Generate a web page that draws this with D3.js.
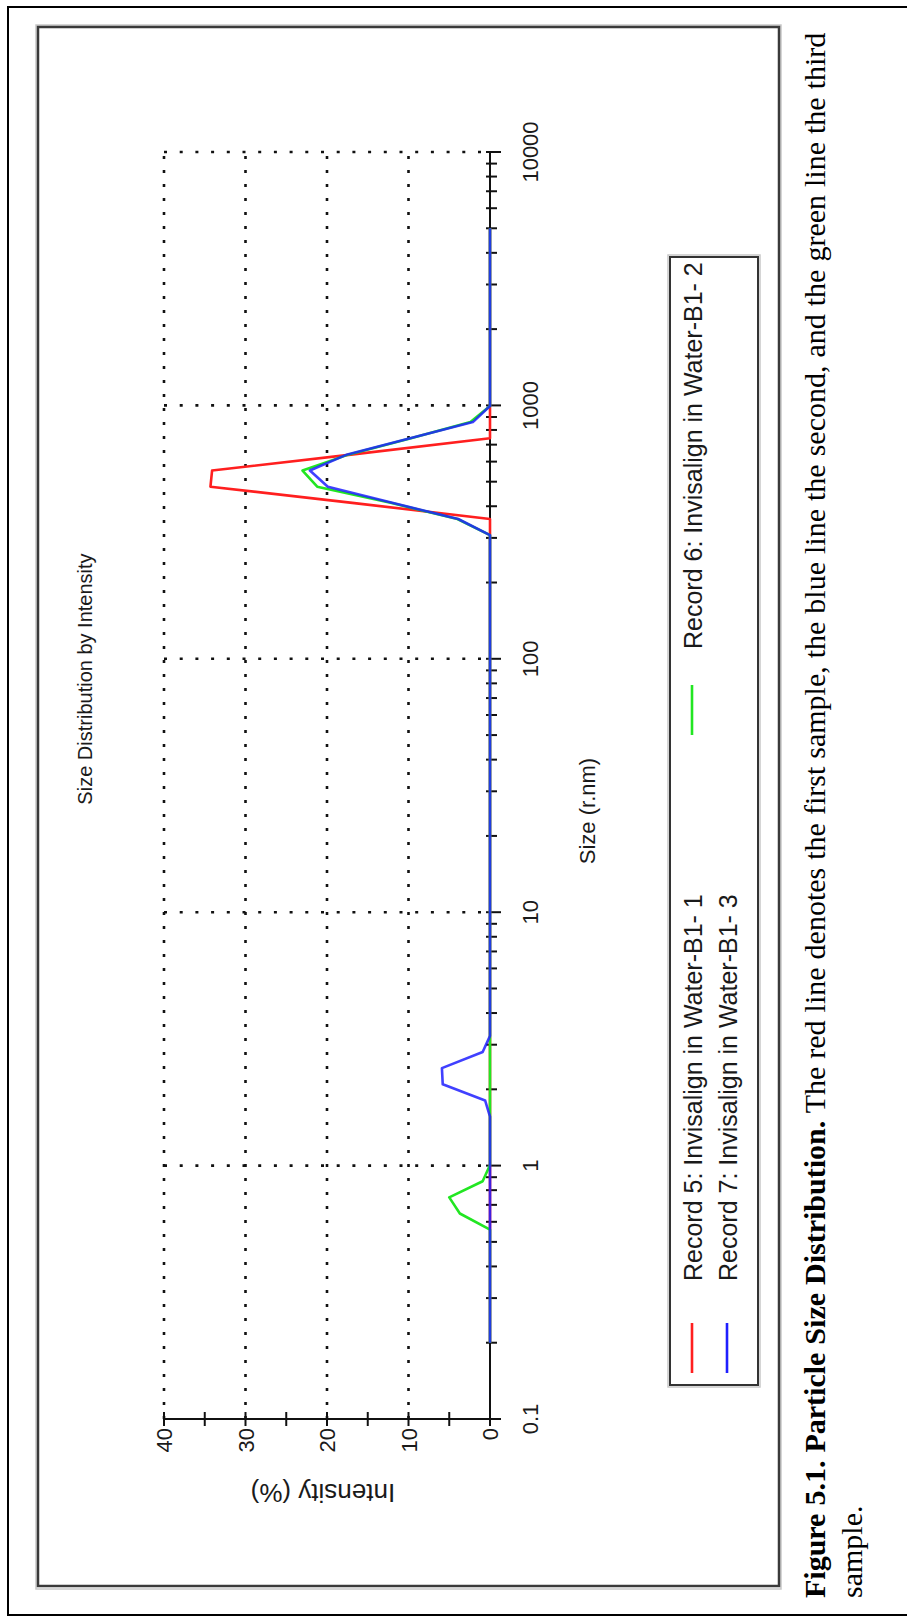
<!DOCTYPE html>
<html>
<head>
<meta charset="utf-8">
<script src="https://cdn.jsdelivr.net/npm/d3@7"></script>
<style>
  body { margin: 0; background: #fff; }
  svg { display: block; }
</style>
</head>
<body>
<svg id="fig" width="907" height="1623"></svg>
<script>
// Size bins of the instrument (radius, nm)
const sizes = [
  0.2, 0.2316, 0.2682, 0.3106, 0.3597, 0.4166, 0.4824, 0.5586, 0.6470, 0.7493,
  0.8677, 1.005, 1.164, 1.348, 1.561, 1.808, 2.093, 2.424, 2.807, 3.251,
  3.765, 4.360, 5.050, 5.848, 6.772, 7.843, 9.083, 10.52, 12.18, 14.11,
  16.34, 18.92, 21.91, 25.38, 29.39, 34.03, 39.41, 45.64, 52.86, 61.22,
  70.89, 82.10, 95.08, 110.1, 127.5, 147.7, 171.0, 198.0, 229.4, 265.6,
  307.6, 356.2, 412.5, 477.7, 553.2, 640.7, 742.0, 859.3, 995.1, 1152,
  1334, 1545, 1790, 2073, 2400, 2780, 3219, 3728, 4317, 5000
];

// Intensity (%) per bin
const record5 = [
  0, 0, 0, 0, 0, 0, 0, 0, 0, 0,
  0, 0, 0, 0, 0, 0, 0, 0, 0, 0,
  0, 0, 0, 0, 0, 0, 0, 0, 0, 0,
  0, 0, 0, 0, 0, 0, 0, 0, 0, 0,
  0, 0, 0, 0, 0, 0, 0, 0, 0, 0,
  0, 0, 16.9, 34.3, 34.1, 16.8, 0, 0, 0, 0,
  0, 0, 0, 0, 0, 0, 0, 0, 0, 0
];
const record6 = [
  0, 0, 0, 0, 0, 0, 0, 0, 3.7, 5.0,
  0.9, 0, 0, 0, 0, 0, 0, 0, 0, 0,
  0, 0, 0, 0, 0, 0, 0, 0, 0, 0,
  0, 0, 0, 0, 0, 0, 0, 0, 0, 0,
  0, 0, 0, 0, 0, 0, 0, 0, 0, 0,
  0, 4.0, 12.2, 21.2, 23.0, 17.3, 9.7, 2.4, 0, 0,
  0, 0, 0, 0, 0, 0, 0, 0, 0, 0
];
const record7 = [
  0, 0, 0, 0, 0, 0, 0, 0, 0, 0,
  0, 0, 0, 0, 0, 0.6, 5.8, 5.9, 0.9, 0,
  0, 0, 0, 0, 0, 0, 0, 0, 0, 0,
  0, 0, 0, 0, 0, 0, 0, 0, 0, 0,
  0, 0, 0, 0, 0, 0, 0, 0, 0, 0,
  0, 3.9, 12.0, 19.9, 22.1, 17.5, 9.8, 2.1, 0, 0,
  0, 0, 0, 0, 0, 0, 0, 0, 0, 0
];

const seriesNames = [
  "Record 5: Invisalign in Water-B1- 1",
  "Record 6: Invisalign in Water-B1- 2",
  "Record 7: Invisalign in Water-B1- 3"
];
const seriesColors = ["#ff1f1f", "#22e622", "#1f1fff"];

const sizeTicks = [0.1, 1, 10, 100, 1000, 10000];
const sizeTickLabels = ["0.1", "1", "10", "100", "1000", "10000"];
const intensityTicks = [0, 10, 20, 30, 40];
const intensityMinorTicks = [5, 15, 25, 35];

const captionBold = "Figure 5.1. Particle Size Distribution.";
const captionText = " The red line denotes the first sample, the blue line the second, and the green line the third";
const captionTail = "sample.";

const sans = "'Liberation Sans', Arial, sans-serif";
const serif = "'Liberation Serif', 'Times New Roman', serif";
const ink = "#1a1a1a";

const svg = d3.select("#fig");

// page border (runs off the right edge)
svg.append("rect")
  .attr("x", 8).attr("y", 7).attr("width", 920).attr("height", 1608)
  .attr("fill", "none").attr("stroke", "#000").attr("stroke-width", 2);

// The figure is laid out in landscape and turned a quarter turn
const g = svg.append("g").attr("transform", "translate(0,1623) rotate(-90)");

// figure frame
g.append("rect")
  .attr("x", 34).attr("y", 36).attr("width", 1564).attr("height", 745)
  .attr("fill", "none").attr("stroke", "#c8c8c8").attr("stroke-width", 1.5);
g.append("rect")
  .attr("x", 37).attr("y", 38).attr("width", 1559).attr("height", 741)
  .attr("fill", "none").attr("stroke", "#3a3a3a").attr("stroke-width", 2.5);

const x = d3.scaleLog().domain([0.1, 10000]).range([204, 1471]);
const y = d3.scaleLinear().domain([0, 40]).range([490, 164]);

// dotted grid
const grid = g.append("g").attr("stroke", "#111").attr("stroke-width", 2.6);
grid.selectAll("line.gx").data(sizeTicks.slice(1)).join("line")
  .attr("x1", d => x(d)).attr("x2", d => x(d))
  .attr("y1", y(40)).attr("y2", y(0))
  .attr("stroke-dasharray", "3,12.7");
grid.selectAll("line.gy").data(intensityTicks.slice(1)).join("line")
  .attr("x1", x(0.1)).attr("x2", x(10000))
  .attr("y1", d => y(d)).attr("y2", d => y(d))
  .attr("stroke-dasharray", "3,11");

// axes
const axes = g.append("g").attr("stroke", "#111").attr("stroke-width", 2);
axes.append("line").attr("x1", x(0.1)).attr("x2", x(10000)).attr("y1", y(0)).attr("y2", y(0));
axes.append("line").attr("x1", x(0.1)).attr("x2", x(0.1)).attr("y1", y(40)).attr("y2", y(0) + 10);

// intensity ticks
axes.selectAll("line.ti").data(intensityTicks.concat(intensityMinorTicks)).join("line")
  .attr("x1", x(0.1) - 7).attr("x2", x(0.1) + 7)
  .attr("y1", d => y(d)).attr("y2", d => y(d));

// size ticks: decades and minor steps
const minorSizes = [];
sizeTicks.slice(0, -1).forEach(d => { for (let k = 2; k <= 9; k++) minorSizes.push(d * k); });
axes.selectAll("line.tmaj").data(sizeTicks).join("line")
  .attr("x1", d => x(d)).attr("x2", d => x(d))
  .attr("y1", y(0) - 4).attr("y2", y(0) + 11);
axes.selectAll("line.tmin").data(minorSizes).join("line")
  .attr("x1", d => x(d)).attr("x2", d => x(d))
  .attr("y1", y(0) - 4).attr("y2", y(0) + 7);

// tick labels
g.append("g").selectAll("text").data(sizeTicks).join("text")
  .attr("x", d => x(d)).attr("y", y(0) + 48)
  .attr("text-anchor", "middle")
  .attr("font-family", sans).attr("font-size", 22).attr("fill", ink)
  .text((d, i) => sizeTickLabels[i]);
g.append("g").selectAll("text").data(intensityTicks).join("text")
  .attr("x", x(0.1) - 9).attr("y", d => y(d) + 8)
  .attr("text-anchor", "end")
  .attr("font-family", sans).attr("font-size", 22).attr("fill", ink)
  .text(d => d);

// titles
g.append("text")
  .attr("x", 944).attr("y", 92)
  .attr("text-anchor", "middle")
  .attr("font-family", sans).attr("font-size", 20).attr("fill", ink)
  .text("Size Distribution by Intensity");
g.append("text")
  .attr("x", 812).attr("y", 595)
  .attr("text-anchor", "middle")
  .attr("font-family", sans).attr("font-size", 22).attr("fill", ink)
  .text("Size (r.nm)");
g.append("text")
  .attr("transform", `translate(130,${y(20.5)}) rotate(-90)`)
  .attr("text-anchor", "middle").attr("dy", "0.35em")
  .attr("font-family", sans).attr("font-size", 26).attr("fill", ink)
  .text("Intensity (%)");

// distribution curves
const line = d3.line().x(d => x(d[0])).y(d => y(d[1]));
const seriesData = [record5, record6, record7];
g.append("g").attr("fill", "none").attr("stroke-width", 2.6).attr("stroke-linejoin", "round")
  .selectAll("path").data(seriesData).join("path")
  .attr("stroke", (d, i) => seriesColors[i])
  .attr("stroke-opacity", (d, i) => i === 2 ? 0.85 : 1)
  .attr("d", d => line(d.map((v, j) => [sizes[j], v])));

// legend
const lg = g.append("g");
lg.append("rect").attr("x", 236).attr("y", 668).attr("width", 1132).attr("height", 92)
  .attr("fill", "none").attr("stroke", "#c8c8c8").attr("stroke-width", 1.5);
lg.append("rect").attr("x", 238).attr("y", 670).attr("width", 1128).attr("height", 88)
  .attr("fill", "none").attr("stroke", "#333").attr("stroke-width", 2);
const legendPos = [[250, 692], [888, 692], [250, 727]];
legendPos.forEach((p, i) => {
  lg.append("line").attr("x1", p[0]).attr("x2", p[0] + 50)
    .attr("y1", p[1]).attr("y2", p[1])
    .attr("stroke", seriesColors[i]).attr("stroke-width", 2.6);
  lg.append("text").attr("x", p[0] + (i === 1 ? 86 : 92)).attr("y", p[1] + 10)
    .attr("font-family", sans).attr("font-size", 25).attr("fill", ink)
    .text(seriesNames[i]);
});

// caption
const cap = g.append("text").attr("x", 25).attr("y", 825)
  .attr("font-family", serif).attr("font-size", 30).attr("fill", "#000")
  .attr("word-spacing", 0.5);
cap.append("tspan").attr("font-weight", "bold").text(captionBold);
cap.append("tspan").text(captionText);
g.append("text").attr("x", 25).attr("y", 862)
  .attr("font-family", serif).attr("font-size", 30).attr("fill", "#000")
  .text(captionTail);
</script>
</body>
</html>
